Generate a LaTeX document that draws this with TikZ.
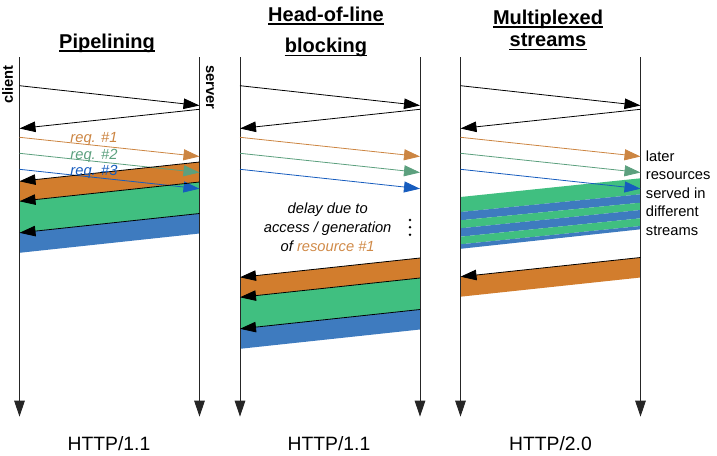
\documentclass[tikz,border=0pt]{standalone}
\usepackage{fontspec}
\setmainfont{Liberation Sans}
\usetikzlibrary{arrows.meta}
\definecolor{bandor}{RGB}{210,125,45}
\definecolor{bandgr}{RGB}{64,191,128}
\definecolor{bandbl}{RGB}{62,123,191}
\definecolor{reqor}{RGB}{204,133,66}
\definecolor{reqgr}{RGB}{92,160,126}
\definecolor{reqbl}{RGB}{22,92,190}
\definecolor{txtor}{RGB}{208,138,72}
\begin{document}
\begin{tikzpicture}[x=1pt,y=-1pt,
  >={Triangle[length=16pt,width=10.5pt]},
  lifeline/.style={draw=black!85, line width=0.9pt, ->},
  msg/.style={draw=black, line width=0.8pt, ->},
  reqarrow/.style={line width=0.8pt, ->},
  titletext/.style={font=\fontsize{20}{24}\selectfont\bfseries, inner sep=0pt, anchor=base},
  uline/.style={line width=1.5pt},
  bodytext/.style={font=\fontsize{14.7}{18}\selectfont, inner sep=0pt, anchor=base},
  itext/.style={font=\fontsize{14.7}{18}\selectfont\itshape, inner sep=0pt, anchor=base},
  roletext/.style={font=\fontsize{14.7}{18}\selectfont\bfseries, inner sep=0pt},
  protext/.style={font=\fontsize{19.3}{23}\selectfont, inner sep=0pt, anchor=base}
]
\useasboundingbox (0,0) rectangle (717,455);

% ---------- panel 1 bands ----------
\fill[bandor] (199.5,162) -- (199.5,182) -- (19.5,201.3) -- (19.5,181.3) -- cycle;
\fill[bandgr] (199.5,182) -- (199.5,213.5) -- (19.5,232.8) -- (19.5,201.3) -- cycle;
\fill[bandbl] (199.5,213.5) -- (199.5,233.5) -- (19.5,252.8) -- (19.5,232.8) -- cycle;
% ---------- panel 2 bands ----------
\fill[bandor] (420,258) -- (420,278) -- (240,297.3) -- (240,277.3) -- cycle;
\fill[bandgr] (420,278) -- (420,309.5) -- (240,328.8) -- (240,297.3) -- cycle;
\fill[bandbl] (420,309.5) -- (420,329.5) -- (240,348.8) -- (240,328.8) -- cycle;
% ---------- panel 3 stripes ----------
\fill[bandgr] (640.5,178.3) -- (640.5,194.3) -- (460.5,212) -- (460.5,197) -- cycle;
\fill[bandbl] (640.5,194.3) -- (640.5,202.7) -- (460.5,220.3) -- (460.5,212) -- cycle;
\fill[bandgr] (640.5,202.7) -- (640.5,210) -- (460.5,228.3) -- (460.5,220.3) -- cycle;
\fill[bandbl] (640.5,210) -- (640.5,218.3) -- (460.5,236.7) -- (460.5,228.3) -- cycle;
\fill[bandgr] (640.5,218.3) -- (640.5,226) -- (460.5,244.3) -- (460.5,236.7) -- cycle;
\fill[bandbl] (640.5,226) -- (640.5,229.3) -- (460.5,248.8) -- (460.5,244.3) -- cycle;
\fill[bandor] (640.5,257.5) -- (640.5,277.5) -- (460.5,296.7) -- (460.5,276.7) -- cycle;

% ---------- lifelines and common messages ----------
\foreach \p/\off in {1/0,2/220.5,3/441}{
  \begin{scope}[xshift=\off pt]
    \coordinate (Ltop\p) at (19.5,57.3);
    \coordinate (Lbot\p) at (19.5,416.7);
    \coordinate (Rtop\p) at (199.5,57.3);
    \coordinate (Rbot\p) at (199.5,416.7);
    \draw[lifeline] (Ltop\p) -- (Lbot\p);
    \draw[lifeline] (Rtop\p) -- (Rbot\p);
    \draw[msg] (19.5,85.7) -- (199.5,105.5);
    \draw[msg] (199.5,109.3) -- (19.5,128.5);
    \draw[reqarrow, draw=reqor, -{Triangle[length=16pt,width=11pt,fill=reqor]}] (19.5,137.3) -- (199.5,156.5);
    \draw[reqarrow, draw=reqgr, -{Triangle[length=16pt,width=11pt,fill=reqgr]}] (19.5,153.3) -- (199.5,172.5);
    \draw[reqarrow, draw=reqbl, -{Triangle[length=16pt,width=11pt,fill=reqbl]}] (19.5,169.3) -- (199.5,188.7);
  \end{scope}
}

% ---------- response arrows on bands ----------
\draw[msg] (199.5,162) -- (19.5,181.3);
\draw[msg] (199.5,182) -- (19.5,201.3);
\draw[msg] (199.5,213.5) -- (19.5,232.8);
\draw[msg] (420,258) -- (240,277.3);
\draw[msg] (420,278) -- (240,297.3);
\draw[msg] (420,309.5) -- (240,328.8);
\draw[msg] (640.5,257.5) -- (460.5,276.7);

% ---------- titles ----------
\node[titletext] (t1) at (107,48.3) {Pipelining};
\node[titletext] (t2a) at (326,21.3) {Head-of-line};
\node[titletext] (t2b) at (326,52.6) {blocking};
\node[titletext] (t3a) at (548,24) {Multiplexed};
\node[titletext] (t3b) at (548,46.7) {streams};
\foreach \t in {t1,t2a,t2b,t3a,t3b}{
  \draw[uline] ([yshift=-2.8pt]\t.base west) -- ([yshift=-2.8pt]\t.base east);
}

% ---------- roles ----------
\node[roletext, rotate=90, anchor=base east] (client) at (12.8,65) {client};
\node[roletext, rotate=-90, anchor=base west] (server) at (206,65) {server};

% ---------- request labels ----------
\node[itext, text=reqor] (r1) at (94,142) {req. \#1};
\node[itext, text=reqgr] (r2) at (94,159) {req. \#2};
\node[itext, text=reqbl] (r3) at (94,175.5) {req. \#3};

% ---------- delay text ----------
\node[itext] (d1) at (327.7,213) {delay due to};
\node[itext] (d2) at (327.7,232) {access / generation};
\node[itext] (d3) at (327.7,251) {of \textcolor{txtor}{resource \#1}};
\fill (410,220) circle (1.35pt);
\fill (410,227.3) circle (1.35pt);
\fill (410,234.7) circle (1.35pt);

% ---------- later resources text ----------
\node[bodytext, anchor=base west] (m1) at (645.7,161) {later};
\node[bodytext, anchor=base west] (m2) at (645.7,179.5) {resources};
\node[bodytext, anchor=base west] (m3) at (645.7,198) {served in};
\node[bodytext, anchor=base west] (m4) at (645.7,216.5) {different};
\node[bodytext, anchor=base west] (m5) at (645.7,235) {streams};

% ---------- protocol labels ----------
\node[protext] (h1) at (109,450.5) {HTTP/1.1};
\node[protext] (h2) at (329,450.5) {HTTP/1.1};
\node[protext] (h3) at (550.5,450.5) {HTTP/2.0};
\end{tikzpicture}
\end{document}
